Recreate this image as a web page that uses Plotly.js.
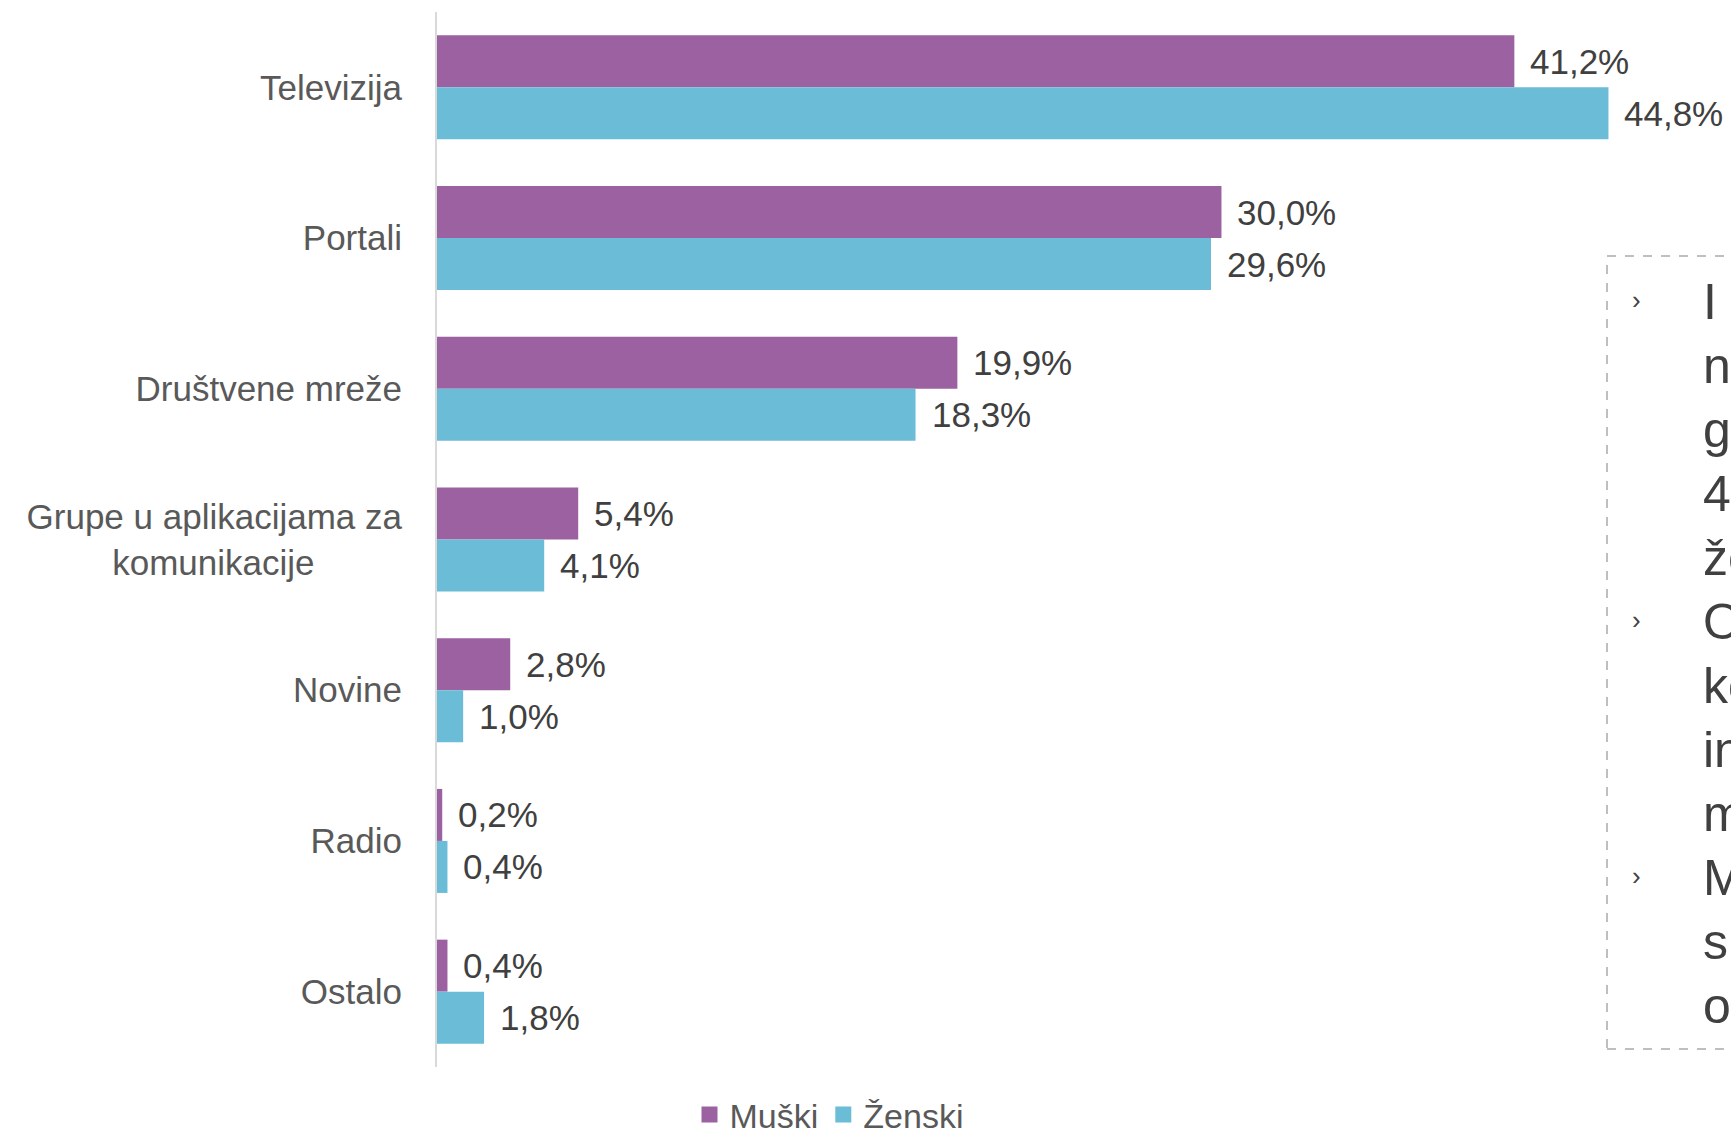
<!DOCTYPE html>
<html>
<head>
<meta charset="utf-8">
<script src="https://cdn.plot.ly/plotly-3.0.1.min.js"></script>
<style>html,body{margin:0;padding:0;overflow:hidden;background:#fff;}</style>
</head>
<body>
<div id="chart" style="width:1731px;height:1135px;"></div>
<script>
const categories = ['Televizija', 'Portali', 'Društvene mreže', 'Grupe u aplikacijama za<br>komunikacije\u00a0\u00a0\u00a0\u00a0\u00a0\u00a0\u00a0\u00a0\u00a0', 'Novine', 'Radio', 'Ostalo'];
const muski = [41.2, 30.0, 19.9, 5.4, 2.8, 0.2, 0.4];
const zenski = [44.8, 29.6, 18.3, 4.1, 1.0, 0.4, 1.8];
const seriesNames = ['Muški', 'Ženski'];
const noteLines = ['I', 'n', 'g', '4', 'že', 'O', 'ko', 'in', 'm', 'M', 'sl', 'od'];
const bulletLines = [0, 5, 9];

const W = 1731, H = 1135;
const mL = 437, mR = 31, mT = 12, mB = 68;
const plotW = W - mL - mR, plotH = H - mT - mB;
const xMax = 48.3;
const px2x = px => (px - mL) / plotW;
const py2y = py => (H - mB - py) / plotH;
const fmt = v => v.toFixed(1).replace('.', ',') + '%';

const colors = ['#9c61a1', '#6bbcd6'];
const FONT = 'Liberation Sans, Arial, sans-serif';

const traces = [muski, zenski].map((vals, i) => ({
  type: 'bar', orientation: 'h', name: seriesNames[i],
  x: vals, y: categories,
  marker: {color: colors[i]},
  showlegend: false,
  hoverinfo: 'x+y'
}));
// legend entries with larger square swatches (no visible points)
seriesNames.forEach((n, i) => {
  traces.push({
    type: 'scatter', mode: 'markers', name: n, x: [null], y: [null],
    marker: {symbol: 'square', size: 18, color: colors[i]},
    showlegend: true, hoverinfo: 'skip'
  });
});

const annotations = [];
[muski, zenski].forEach((vals, i) => {
  vals.forEach((v, j) => {
    annotations.push({
      x: v, y: categories[j], xref: 'x', yref: 'y',
      text: fmt(v), showarrow: false, xanchor: 'left', yanchor: 'middle',
      xshift: 14, yshift: i === 0 ? 26 : -26,
      font: {family: FONT, size: 35, color: '#404040'}
    });
  });
});

const baseline0 = 320, pitch = 64, noteFont = 50;
noteLines.forEach((t, k) => {
  const base = baseline0 + k * pitch;
  annotations.push({
    x: px2x(1701), y: py2y(base - 18), xref: 'paper', yref: 'paper',
    text: t, showarrow: false, xanchor: 'left', yanchor: 'middle', align: 'left',
    font: {family: FONT, size: noteFont, color: '#404040'}
  });
});
bulletLines.forEach(k => {
  const base = baseline0 + k * pitch;
  annotations.push({
    x: px2x(1630), y: py2y(base - 20), xref: 'paper', yref: 'paper',
    text: '›', showarrow: false, xanchor: 'left', yanchor: 'middle',
    font: {family: FONT, size: 26, color: '#404040'}
  });
});

const layout = {
  width: W, height: H,
  margin: {l: mL, r: mR, t: mT, b: mB, pad: 0, autoexpand: false},
  paper_bgcolor: '#ffffff', plot_bgcolor: '#ffffff',
  barmode: 'group', bargap: 0.31, bargroupgap: 0,
  font: {family: FONT, color: '#595959'},
  xaxis: {range: [0, xMax], showgrid: false, zeroline: false, showticklabels: false, showline: false, fixedrange: true, automargin: false},
  yaxis: {
    type: 'category', autorange: 'reversed', automargin: false,
    showline: true, linecolor: '#d9d9d9', linewidth: 2,
    showgrid: false, zeroline: false, ticks: '',
    ticklabelstandoff: 26,
    tickfont: {family: FONT, size: 35, color: '#595959'}
  },
  legend: {
    orientation: 'h', x: px2x(829), xanchor: 'center',
    y: py2y(1115), yanchor: 'middle',
    font: {family: FONT, size: 34, color: '#595959'}, traceorder: 'normal',
    itemwidth: 30, tracegroupgap: 0
  },
  shapes: [{
    type: 'rect', xref: 'paper', yref: 'paper',
    x0: px2x(1607), x1: px2x(1800), y0: py2y(1049), y1: py2y(256),
    line: {color: '#bfbfbf', width: 2, dash: 'dash'}, fillcolor: 'rgba(0,0,0,0)'
  }],
  annotations: annotations,
  showlegend: true
};

Plotly.newPlot('chart', traces, layout, {displayModeBar: false, staticPlot: true});
</script>
</body>
</html>
